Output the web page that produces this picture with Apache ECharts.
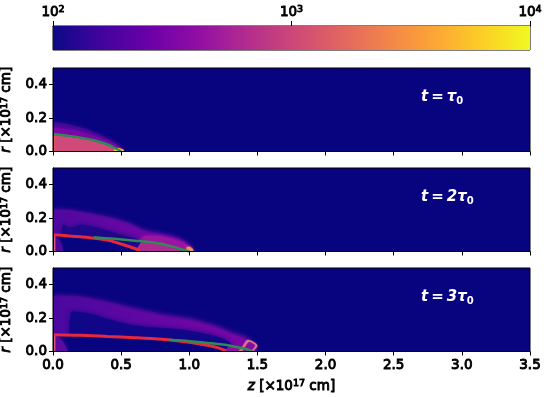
<!DOCTYPE html>
<html><head><meta charset="utf-8">
<style>html,body{margin:0;padding:0;background:#fff}#c{width:546px;height:397px}</style>
<script src="https://cdn.jsdelivr.net/npm/echarts@6/dist/echarts.min.js"></script></head>
<body><div id="c"></div><script>
const plasma=['#0d0887','#41049d','#6a00a8','#8f0da4','#b12a90','#cc4778','#e16462','#f2844b','#fca636','#fcce25','#f0f921'];
const barRange=[100,10000];
const xTicks=[0,0.5,1,1.5,2,2.5,3,3.5];
const yTicks=[0,0.2,0.4];
const labels=['t\u2009=\u2009τ','t\u2009=\u20092τ','t\u2009=\u20093τ'];
const labelPos=[2.7,0.325];
const navy='#08047f';
// panel 1 (t = tau0) contours: [z, r]
const a1Outer=[[0,.175],[.1,.165],[.2,.145],[.3,.115],[.4,.075],[.48,.035],[.52,.005]];
const a1Mid=[[0,.145],[.1,.135],[.2,.12],[.3,.095],[.4,.065],[.48,.03],[.51,.005]];
const a1Inner=[[0,.1],[.1,.09],[.2,.08],[.3,.065],[.4,.042],[.47,.015],[.5,0]];
const a1Tip=[[.45,.018],[.48,.02],[.5,.016],[.52,.006],[.52,0]];
const g1=[[0,.105],[.1,.095],[.2,.083],[.3,.067],[.4,.042],[.46,.018],[.5,.001]];
const e1=[[.006,0],[.006,.1]];
// panel 2 (t = 2 tau0)
const a2Outer=[[0,.255],[.1,.25],[.2,.24],[.4,.21],[.55,.175],[.65,.135],[.75,.115],[.85,.1],[.95,.07],[1.01,.035],[1.03,.01]];
const a2Mid=[[0,.24],[.1,.24],[.2,.225],[.4,.195],[.55,.16],[.65,.125],[.75,.105],[.85,.09],[.95,.062],[1.0,.03],[1.02,.01]];
const a2Rim=[[.62,.06],[.68,.095],[.75,.095],[.85,.08],[.95,.055],[1.0,.028],[1.02,.008]];
const a2Hole=[[.06,.11],[.08,.16],[.13,.14],[.2,.16],[.4,.125],[.5,.1],[.6,.078],[.64,.06],[.66,0]];
const a2Core=[[0,.1],[.2,.09],[.4,.07],[.55,.035],[.66,0]];
const a2Under=[[.62,.02],[.66,.06],[.75,.055],[.85,.04],[.95,.014],[1,0]];
const a2Col=[[0,.09],[.03,.08],[.06,.05],[.075,0]];
const a2Tip=[[.98,.025],[1.0,.028],[1.02,.018],[1.03,.008],[1.03,0],[.99,0]];
const r2=[[0,.1],[.1,.095],[.2,.088],[.3,.08],[.4,.068],[.5,.045],[.6,.018],[.64,.005]];
const g2=[[.3,.085],[.45,.076],[.6,.065],[.75,.052],[.85,.035],[.95,.012],[1,0]];
const e2=[[.012,0],[.012,.1]];
// panel 3 (t = 3 tau0)
const a3Outer=[[0,.335],[.2,.33],[.4,.3],[.6,.26],[.8,.225],[1,.2],[1.1,.18],[1.2,.155],[1.3,.12],[1.42,.085],[1.48,.04],[1.5,.015]];
const a3Mid=[[0,.32],[.2,.315],[.4,.285],[.6,.245],[.8,.21],[1,.185],[1.1,.165],[1.2,.14],[1.3,.107],[1.4,.08],[1.46,.04],[1.48,.015]];
const a3Hole=[[.12,.1],[.14,.24],[.25,.23],[.4,.195],[.6,.155],[.8,.14],[1,.125],[1.15,.1],[1.25,.075],[1.3,.05],[1.32,0]];
const a3Core=[[0,.1],[.4,.09],[.7,.078],[1,.055],[1.15,.03],[1.28,0]];
const a3Under=[[1.27,.01],[1.3,.035],[1.4,.02],[1.46,0]];
const a3Col=[[0,.095],[.04,.085],[.08,.05],[.11,0]];
const a3Diamond=[[1.36,0],[1.39,.03],[1.43,.07],[1.47,.058],[1.5,.035],[1.48,.012],[1.47,0]];
const a3Pocket=[[1.39,0],[1.41,.025],[1.44,.055],[1.48,.035],[1.46,.01],[1.45,0]];
const r3=[[0,.1],[.2,.097],[.4,.09],[.6,.083],[.8,.073],[1,.055],[1.1,.042],[1.2,.025],[1.27,.005]];
const g3=[[.85,.07],[1,.062],[1.15,.05],[1.3,.035],[1.4,.018],[1.46,.002]];
const e3=[[.012,0],[.012,.1]];

const font='DejaVu Sans';
const stroke={textBorderColor:'#000',textBorderWidth:.9};
const base={fontFamily:font,fontSize:13.5,fontWeight:'normal',color:'#000',...stroke};
const rich={s:{fontFamily:font,fontSize:9.5,verticalAlign:'top',lineHeight:15,color:'#000',...stroke},
 n:{fontFamily:font,fontSize:13.5,color:'#000',lineHeight:15,...stroke},
 i:{fontFamily:font,fontSize:13.5,fontStyle:'italic',color:'#000',lineHeight:15,...stroke}};
const tops=[68,168,268], h=83.5;
const grids=[{left:53,width:477,top:26,height:24,show:true,borderColor:'#000',borderWidth:1,backgroundColor:'transparent',outerBoundsMode:'none'}], xAxes=[{
  type:'log',logBase:10,gridIndex:0,min:barRange[0],max:barRange[1],position:'top',
  axisLine:{show:true,onZero:false,lineStyle:{color:'#000'}},axisTick:{show:true,length:5,lineStyle:{color:'#000'}},minorTick:{show:false},splitLine:{show:false},
  axisLabel:{...base,margin:6,showMinLabel:true,showMaxLabel:true,rich,
    formatter:v=>'{n|10}{s|'+Math.round(Math.log10(v))+'}'}}],
 yAxes=[{type:'value',gridIndex:0,min:0,max:1,show:false}], series=[];
series.push({type:'line',xAxisIndex:0,yAxisIndex:0,data:[[barRange[0],1],[barRange[1],1]],showSymbol:false,lineStyle:{width:0},
  areaStyle:{opacity:1,color:{type:'linear',x:0,y:0,x2:1,y2:0,colorStops:plasma.map((c,i)=>({offset:i/(plasma.length-1),color:c}))}}});

tops.forEach((t,k)=>{
  const last=k===2;
  grids.push({left:53,width:477,top:t,height:h,show:true,backgroundColor:navy,borderColor:'#000',borderWidth:1,outerBoundsMode:'none'});
  xAxes.push({type:'value',gridIndex:k+1,min:0,max:3.5,interval:.5,z:6,
    axisLine:{show:true,onZero:false,lineStyle:{color:'#000'}},axisTick:{show:true,length:4,lineStyle:{color:'#000'}},splitLine:{show:false},
    axisLabel:{show:last,...base,margin:7,formatter:v=>v.toFixed(1)},
    name:last?'{i|z} {n|[×10}{s|17}{n| cm]}':'',nameLocation:'middle',nameGap:27,nameTextStyle:{...base,rich}});
  yAxes.push({type:'value',gridIndex:k+1,min:0,max:.5,interval:.1,z:6,
    axisLine:{show:true,onZero:false,lineStyle:{color:'#000'}},axisTick:{show:true,length:4,customValues:yTicks,lineStyle:{color:'#000'}},splitLine:{show:false},
    axisLabel:{...base,margin:6,customValues:yTicks,formatter:v=>v.toFixed(1)},
    name:'{i|r} {n|[×10}{s|17}{n| cm]}',nameLocation:'middle',nameRotate:90,nameGap:34,nameTextStyle:{...base,rich}});
});
const hGrad=(a,b)=>({type:'linear',x:0,y:0,x2:1,y2:0,colorStops:[{offset:0,color:a},{offset:1,color:b}]});
function fill(p,data,color,blur){series.push({type:'line',xAxisIndex:p,yAxisIndex:p,data,smooth:.3,showSymbol:false,silent:true,clip:true,
  lineStyle:{width:0},areaStyle:{color,opacity:1,shadowBlur:blur||0,shadowColor:typeof color==='string'?color:color.colorStops[1].color}});}
function line(p,data,color,w){series.push({type:'line',xAxisIndex:p,yAxisIndex:p,data,smooth:.3,showSymbol:false,silent:true,clip:true,
  lineStyle:{color,width:w||2}});}
// panel 1
fill(1,a1Outer,'#3d0a98',4);fill(1,a1Mid,'#7a06a6',5);fill(1,a1Inner,'#cf4a78');
line(1,e1,'#e9575f',2);
fill(1,a1Tip,'#f6c52d',1);line(1,g1,'#2f8a55',2.5);
// panel 2
fill(2,a2Outer,'#3a0a96',5);fill(2,a2Mid,hGrad('#4f08a0','#7c06a6'),5);fill(2,a2Rim,'#9b16a0',3);fill(2,a2Hole,'#1c0888',5);
fill(2,a2Core,navy,2);fill(2,a2Under,'#ad2a90',1);fill(2,a2Col,'#4a0a9c',3);
fill(2,a2Tip,'#f0905a',2);line(2,e2,'#d85a80',1.5);
line(2,r2,'#e8283c',3);line(2,g2,'#2f8a55',2.5);
// panel 3
fill(3,a3Outer,'#2f098e',5);fill(3,a3Mid,hGrad('#4a08a0','#7c06a6'),6);fill(3,a3Hole,'#120688',5);
fill(3,a3Core,navy,2);fill(3,a3Under,'#8f10a0',1);fill(3,a3Col,'#5a0a9e',4);
fill(3,a3Diamond,'#d9708a',1);fill(3,a3Pocket,'#7d10a2',1);
line(3,e3,'#d85a80',1.5);
line(3,r3,'#e8283c',3);line(3,g3,'#2f8a55',2.5);
// annotations
labels.forEach((s,k)=>series.push({type:'scatter',xAxisIndex:k+1,yAxisIndex:k+1,symbolSize:0,silent:true,z:9,itemStyle:{opacity:1},data:[labelPos],
  label:{show:true,opacity:1,position:'right',distance:0,formatter:'{t|'+s+'}{o|0}',
    rich:{t:{fontFamily:font,fontSize:15,fontWeight:'bold',fontStyle:'italic',color:'#fff',lineHeight:18},
          o:{fontFamily:font,fontSize:10,fontWeight:'bold',color:'#fff',verticalAlign:'bottom',lineHeight:12}}}}));
const chart=echarts.init(document.getElementById('c'),null,{renderer:'canvas'});
chart.setOption({animation:false,grid:grids,xAxis:xAxes,yAxis:yAxes,series});
</script></body></html>
